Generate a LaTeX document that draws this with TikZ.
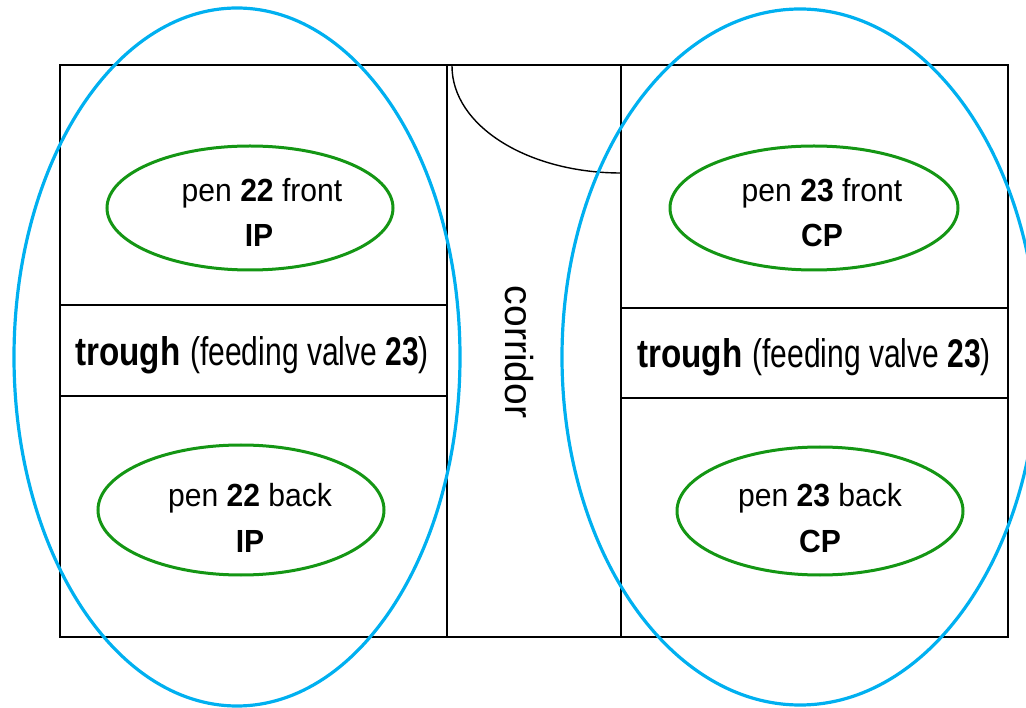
\documentclass[tikz,border=0pt]{standalone}
\usepackage{graphicx}
\usepackage{fontspec}
\setmainfont{Liberation Sans}
\usetikzlibrary{shapes.geometric}
\definecolor{penblue}{RGB}{0,176,240}
\definecolor{pengreen}{RGB}{20,150,20}
\newcommand{\penfont}{\fontsize{32}{38}\selectfont}
\newcommand{\pentext}[1]{\scalebox{0.94}[1]{\penfont #1}}
\newcommand{\troughtext}{\scalebox{0.83}[1]{\fontsize{40}{46}\selectfont\bfseries trough}\hspace{10pt}\scalebox{0.75}[1]{\fontsize{40}{46}\selectfont(feeding valve \textbf{23})}}
\tikzset{
  wall/.style={draw=black,line width=1.4pt},
  group/.style={ellipse,draw=penblue,line width=3.2pt,inner sep=0pt},
  pen/.style={ellipse,draw=pengreen,line width=3pt,inner sep=0pt},
  lbl/.style={anchor=base,inner sep=0pt},
}
\begin{document}
\begin{tikzpicture}[x=1pt,y=-1pt]
\useasboundingbox (0,0) rectangle (1026,708);
\clip (0,0) rectangle (1026,708);
% floor plan
\coordinate (tl) at (60,65);
\coordinate (br) at (1008,637);
\draw[wall] (tl) rectangle (br);
\draw[wall] (447,65) -- (447,637);
\draw[wall] (621,65) -- (621,637);
\draw[wall] (60,305) -- (447,305);
\draw[wall] (60,396) -- (447,396);
\draw[wall] (621,308) -- (1008,308);
\draw[wall] (621,398) -- (1008,398);
% door arc
\coordinate (doorA) at (452,66);
\coordinate (doorB) at (621,173);
\draw[black,line width=1.4pt] (doorA) .. controls (452,126) and (528,173) .. (doorB);
% corridor
\node[rotate=-90,inner sep=0pt,font=\fontsize{39}{44}\selectfont] (corr) at (519,352) {corridor};
% troughs
\node[lbl] (tr1) at (252,366) {\troughtext};
\node[lbl] (tr2) at (814,368) {\troughtext};
% pens
\node[pen,minimum width=286pt,minimum height=124pt] (e22f) at (250,208) {};
\node[pen,minimum width=286pt,minimum height=130pt] (e22b) at (241,510) {};
\node[pen,minimum width=288pt,minimum height=124pt] (e23f) at (814,208) {};
\node[pen,minimum width=286pt,minimum height=128pt] (e23b) at (820,511) {};
\node[lbl] (t22f1) at (262,202) {\pentext{pen \textbf{22} front}};
\node[lbl] (t22f2) at (259,247) {\pentext{\textbf{IP}}};
\node[lbl] (t22b1) at (250,507) {\pentext{pen \textbf{22} back}};
\node[lbl] (t22b2) at (250,552) {\pentext{\textbf{IP}}};
\node[lbl] (t23f1) at (822,202) {\pentext{pen \textbf{23} front}};
\node[lbl] (t23f2) at (822,247) {\pentext{\textbf{CP}}};
\node[lbl] (t23b1) at (820,507) {\pentext{pen \textbf{23} back}};
\node[lbl] (t23b2) at (820,552) {\pentext{\textbf{CP}}};
% groups
\node[group,minimum width=446pt,minimum height=698pt] (g1) at (237,357) {};
\node[group,minimum width=476pt,minimum height=696pt] (g2) at (800,357) {};
\end{tikzpicture}
\end{document}
